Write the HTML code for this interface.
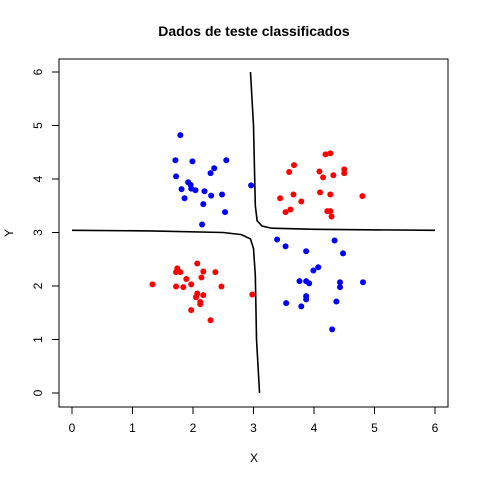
<!DOCTYPE html>
<html><head><meta charset="utf-8"><style>body{margin:0;background:#fff}svg{display:block;font-family:"Liberation Sans",Arial,sans-serif}</style></head>
<body>
<svg id="chart" width="480" height="480" viewBox="0 0 480 480">
<rect x="0" y="0" width="480" height="480" fill="#fff"/>
<text x="254" y="36" text-anchor="middle" font-size="14" font-weight="bold">Dados de teste classificados</text>
<rect x="59" y="59" width="389" height="348" fill="none" stroke="#000"/>
<text x="254" y="462" text-anchor="middle" font-size="12">X</text>
<text transform="translate(13,233) rotate(-90)" text-anchor="middle" font-size="12">Y</text>
<g id="axes"></g><g id="bound"></g><g id="pts"></g>
</svg>
<script>
const xTicks=[0,1,2,3,4,5,6];
const yTicks=[0,1,2,3,4,5,6];
const blueX=[1.79,1.71,1.99,2.55,2.35,2.29,1.72,1.92,1.96,1.81,1.97,2.04,2.19,2.30,2.48,2.96,1.86,2.17,2.53,2.15,3.39,3.53,4.34,3.87,4.48,4.07,3.99,3.76,3.87,3.92,4.43,4.43,4.81,3.87,3.87,3.54,3.79,4.37,4.30];
const blueY=[4.82,4.35,4.33,4.35,4.20,4.11,4.05,3.94,3.89,3.81,3.82,3.79,3.77,3.69,3.71,3.88,3.64,3.53,3.38,3.15,2.87,2.74,2.85,2.65,2.61,2.35,2.29,2.09,2.09,2.05,2.07,1.98,2.07,1.81,1.75,1.68,1.62,1.71,1.19];
const redX=[4.19,4.27,3.67,3.59,4.09,4.15,4.32,4.50,4.50,3.44,3.66,3.79,4.10,4.27,4.80,3.53,3.61,4.22,4.27,4.29,2.07,1.74,1.72,1.79,2.17,2.37,2.14,1.89,1.33,1.72,1.84,1.97,2.47,2.07,2.05,2.17,2.12,2.12,1.97,2.29,2.98];
const redY=[4.46,4.48,4.26,4.13,4.14,4.03,4.07,4.18,4.11,3.64,3.71,3.58,3.75,3.71,3.68,3.38,3.43,3.40,3.40,3.30,2.42,2.33,2.26,2.26,2.27,2.26,2.16,2.13,2.03,1.99,1.98,2.03,1.99,1.86,1.79,1.83,1.70,1.66,1.55,1.36,1.84];
const upperX=[2.95,3.0,3.02,3.03,3.06,3.14,3.3,4.0,6.0];
const upperY=[6.0,5.0,4.0,3.5,3.22,3.12,3.08,3.06,3.04];
const lowerX=[0,1.3,2.5,2.8,2.95,3.0,3.03,3.05,3.1];
const lowerY=[3.04,3.03,3.0,2.96,2.88,2.7,2.2,1.0,0.0];
const NS='http://www.w3.org/2000/svg';
const sx=v=>72+v*60.5, sy=v=>393-v*53.5;
function mk(t,a,p){const e=document.createElementNS(NS,t);for(const k in a)e.setAttribute(k,a[k]);p.appendChild(e);return e;}
const ax=document.getElementById('axes');
mk('line',{x1:sx(0),x2:sx(6),y1:407,y2:407,stroke:'#000'},ax);
mk('line',{x1:59,x2:59,y1:sy(0),y2:sy(6),stroke:'#000'},ax);
xTicks.forEach(v=>{
 const l=mk('line',{x1:sx(v),x2:sx(v),y1:407,y2:414,stroke:'#000'},ax);
 
 
 const t=mk('text',{x:sx(v),y:432,'text-anchor':'middle','font-size':12},ax);t.textContent=v;
 
 
});
yTicks.forEach(v=>{
 const l=mk('line',{x1:52,x2:59,y1:sy(v),y2:sy(v),stroke:'#000'},ax);
 
 
 const t=mk('text',{transform:`translate(42,${sy(v)}) rotate(-90)`,'text-anchor':'middle','font-size':12},ax);t.textContent=v;
 
 
});
const bd=document.getElementById('bound');
[[upperX,upperY,'decision-boundary-upper'],[lowerX,lowerY,'decision-boundary-lower']].forEach(([xs,ys,n])=>{
 const p=mk('polyline',{points:xs.map((x,i)=>sx(x)+','+sy(ys[i])).join(' '),fill:'none',stroke:'#000','stroke-width':1.6},bd);
 
 
});
const pg=document.getElementById('pts');
blueX.forEach((x,i)=>{
 const c=mk('circle',{cx:sx(x),cy:sy(blueY[i]),r:3,fill:'#0000ff'},pg);
 
 
});
redX.forEach((x,i)=>{
 const c=mk('circle',{cx:sx(x),cy:sy(redY[i]),r:3,fill:'#ff0000'},pg);
 
 
});
</script>
</body></html>
